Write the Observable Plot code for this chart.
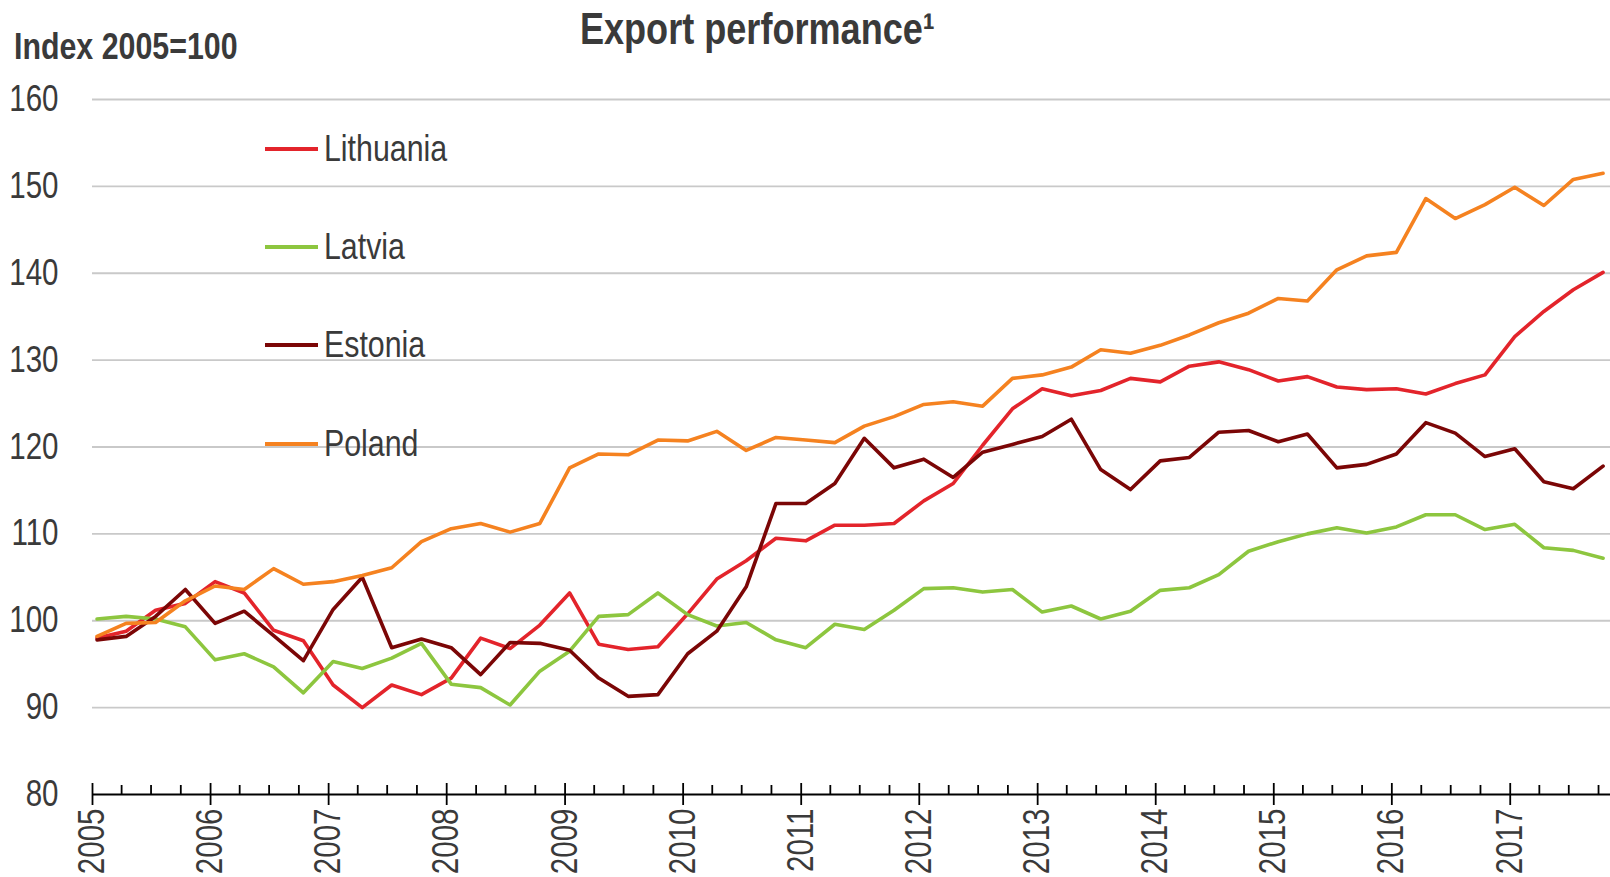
<!DOCTYPE html>
<html>
<head>
<meta charset="utf-8">
<script src="https://cdn.jsdelivr.net/npm/d3@7"></script>
<script src="https://cdn.jsdelivr.net/npm/@observablehq/plot@0.6"></script>
<style>
  html, body { margin: 0; padding: 0; background: #ffffff; }
  #wrap { position: relative; width: 1610px; height: 877px; overflow: hidden;
    font-family: "Liberation Sans", Arial, sans-serif; color: #3a3a3a; }
  #chart { position: absolute; left: 0; top: 0; }
  .narrow { display: inline-block; transform: scaleX(0.82); white-space: nowrap; }
  #title { position: absolute; left: 457px; width: 600px; top: 4px; text-align: center;
    font-size: 44px; font-weight: bold; line-height: 50px; }
  #title .narrow { transform-origin: 50% 50%; }
  #ylab { position: absolute; left: 14px; top: 25px; font-size: 37px; font-weight: bold; line-height: 44px; }
  #ylab .narrow { transform-origin: 0 50%; }
  .leg { position: absolute; left: 265px; height: 40px; display: flex; align-items: center; }
  .leg .sw { width: 53px; height: 3.5px; margin-right: 6px; }
  .leg .tx { font-size: 37px; line-height: 40px; transform-origin: 0 50%; }
</style>
</head>
<body>
<div id="wrap">
  <div id="chart"></div>
  <div id="title"><span class="narrow">Export performance¹</span></div>
  <div id="ylab"><span class="narrow">Index 2005=100</span></div>
  <div id="legend"></div>
</div>
<script>
// ---- data (quarterly, 2005Q1 .. 2017Q4) ----
const startYear = 2005;
const countries = ["Lithuania", "Latvia", "Estonia", "Poland"];
const colors = ["#e3242b", "#8dc63f", "#7b0606", "#f58220"];

const lithuania = [98.0, 98.8, 101.2, 102.0, 104.5, 103.2, 98.9, 97.7, 92.6, 90.0, 92.6, 91.5, 93.4, 98.0,
  96.8, 99.5, 103.2, 97.3, 96.7, 97.0, 100.8, 104.8, 106.9, 109.5, 109.2, 111.0, 111.0, 111.2, 113.8, 115.8,
  120.2, 124.4, 126.7, 125.9, 126.5, 127.9, 127.5, 129.3, 129.8, 128.9, 127.6, 128.1, 126.9, 126.6, 126.7,
  126.1, 127.3, 128.3, 132.7, 135.6, 138.1, 140.1];
const latvia = [100.2, 100.5, 100.2, 99.3, 95.5, 96.2, 94.7, 91.7, 95.3, 94.5, 95.7, 97.4, 92.7, 92.3,
  90.3, 94.2, 96.5, 100.5, 100.7, 103.2, 100.7, 99.4, 99.8, 97.8, 96.9, 99.6, 99.0, 101.2, 103.7, 103.8,
  103.3, 103.6, 101.0, 101.7, 100.2, 101.1, 103.5, 103.8, 105.3, 108.0, 109.1, 110.0, 110.7, 110.1, 110.8,
  112.2, 112.2, 110.5, 111.1, 108.4, 108.1, 107.2];
const estonia = [97.8, 98.2, 100.5, 103.6, 99.7, 101.1, 98.3, 95.4, 101.3, 105.0, 96.9, 97.9, 96.9, 93.8,
  97.5, 97.4, 96.6, 93.4, 91.3, 91.5, 96.2, 98.8, 103.9, 113.5, 113.5, 115.8, 121.0, 117.6, 118.6, 116.5,
  119.4, 120.3, 121.2, 123.2, 117.4, 115.1, 118.4, 118.8, 121.7, 121.9, 120.6, 121.5, 117.6, 118.0, 119.2,
  122.8, 121.6, 118.9, 119.8, 116.0, 115.2, 117.8];
const poland = [98.2, 99.7, 99.8, 102.3, 104.0, 103.6, 106.0, 104.2, 104.5, 105.2, 106.1, 109.1, 110.6, 111.2,
  110.2, 111.2, 117.6, 119.2, 119.1, 120.8, 120.7, 121.8, 119.6, 121.1, 120.8, 120.5, 122.4, 123.5, 124.9, 125.2,
  124.7, 127.9, 128.3, 129.2, 131.2, 130.8, 131.7, 132.9, 134.3, 135.4, 137.1, 136.8, 140.4, 142.0, 142.4,
  148.6, 146.3, 147.9, 149.9, 147.8, 150.8, 151.5];

const yTicks = [80, 90, 100, 110, 120, 130, 140, 150, 160];
const yearTicks = [2005, 2006, 2007, 2008, 2009, 2010, 2011, 2012, 2013, 2014, 2015, 2016, 2017];

// ---- build table ----
const seriesValues = [lithuania, latvia, estonia, poland];
const rows = [];
countries.forEach((c, k) => {
  seriesValues[k].forEach((v, i) => {
    const yr = startYear + Math.floor(i / 4), q = i % 4;
    rows.push({country: c, date: new Date(yr, q * 3, 15), value: v});
  });
});
const yearDates = yearTicks.map(y => new Date(y, 0, 1));
const quarterDates = [];
yearTicks.forEach(y => { for (let q = 1; q < 4; q++) quarterDates.push(new Date(y, q * 3, 1)); });

const font = `"Liberation Sans", Arial, sans-serif`;

const chart = Plot.plot({
  width: 1610,
  height: 877,
  marginLeft: 92,
  marginRight: 0,
  marginTop: 99,
  marginBottom: 83,
  style: {fontFamily: font, fontSize: "36px", color: "#3a3a3a", background: "transparent"},
  x: {type: "time", domain: [new Date(2005, 0, 1), new Date(2017, 10, 7)]},
  y: {domain: [80, 160]},
  color: {domain: countries, range: colors},
  marks: [
    Plot.ruleY(yTicks.filter(d => d > 80), {stroke: "#c9c9c9", strokeWidth: 1.8}),
    Plot.axisY({ticks: yTicks, tickSize: 0, tickPadding: 34, label: null, fontSize: 36}),
    Plot.lineY(rows, {x: "date", y: "value", z: "country", stroke: "country", strokeWidth: 3.6, curve: "linear"}),
    Plot.ruleY([80], {stroke: "#000000", strokeWidth: 2}),
    Plot.axisX({ticks: quarterDates, tickSize: -9, tickFormat: () => "", label: null, stroke: "#000", strokeWidth: 1.8}),
    Plot.axisX({ticks: yearDates, tickSize: -11, tickFormat: () => "", label: null, stroke: "#000", strokeWidth: 1.8}),
    Plot.axisX({ticks: yearDates, tickSize: 11, tickPadding: 3, tickRotate: -90, tickFormat: "%Y",
      label: null, stroke: "#000", strokeWidth: 1.8, fontSize: 36})
  ]
});
document.getElementById("chart").appendChild(chart);

// condense the SVG texts (Arial Narrow look) while keeping their anchors
chart.querySelectorAll("text").forEach(t => {
  const w = t.getComputedTextLength();
  if (w > 0) {
    t.setAttribute("textLength", (w * 0.82).toFixed(2));
    t.setAttribute("lengthAdjust", "spacingAndGlyphs");
  }
});

// legend
const legend = document.getElementById("legend");
const legendTops = [129, 227, 325, 424];
countries.forEach((c, k) => {
  const d = document.createElement("div");
  d.className = "leg";
  d.style.top = legendTops[k] + "px";
  d.innerHTML = `<span class="sw" style="background:${colors[k]}"></span><span class="tx narrow">${c}</span>`;
  legend.appendChild(d);
});
</script>
</body>
</html>
